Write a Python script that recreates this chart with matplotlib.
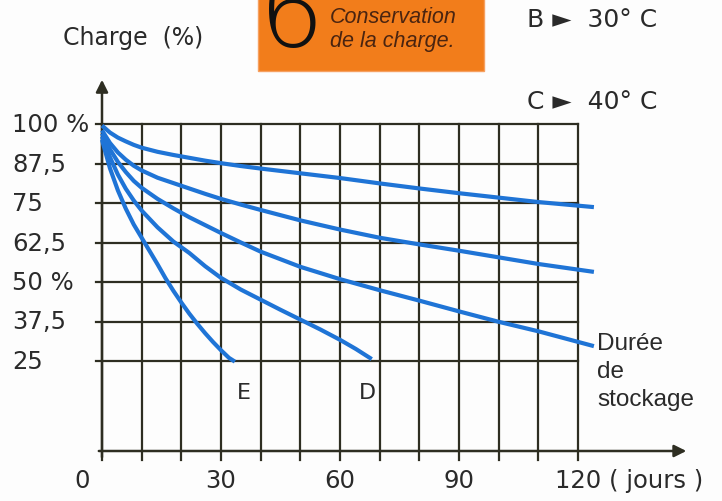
import matplotlib.pyplot as plt
from matplotlib.patches import Rectangle

# Storage curves (days, % charge)
days_a = [0, 2, 4, 6, 8, 10, 14, 18, 22, 26, 30, 35, 40, 50, 60, 70, 80, 90, 100, 110, 124]
charge_a = [99.5, 97.3, 95.7, 94.5, 93.4, 92.5, 91.2, 90.2, 89.3, 88.4, 87.6, 86.7, 85.9,
            84.4, 82.9, 81.2, 79.6, 78.1, 76.7, 75.3, 73.7]

days_b = [0, 2, 4, 6, 8, 10, 14, 18, 22, 26, 30, 35, 40, 50, 60, 70, 80, 90, 100, 110, 124]
charge_b = [98, 94, 91, 88.7, 86.8, 85.3, 83.0, 81.3, 79.6, 77.9, 76.3, 74.5, 72.8,
            69.5, 66.6, 64.0, 61.9, 59.9, 57.8, 55.7, 53.2]

days_c = [0, 2, 4, 6, 8, 10, 14, 18, 22, 26, 30, 35, 40, 50, 60, 70, 80, 90, 100, 110, 124]
charge_c = [97, 92, 88, 84.8, 82.0, 79.8, 76.3, 73.3, 70.5, 68.0, 65.5, 62.5, 59.6,
            54.8, 50.9, 47.4, 44.1, 40.7, 37.4, 34.4, 29.7]

days_d = [0, 2, 4, 6, 8, 10, 14, 18, 22, 26, 30, 35, 40, 45, 50, 55, 60, 64, 68]
charge_d = [96, 89.5, 84, 79.5, 75.8, 72.6, 67.3, 62.8, 59.2, 55.0, 51.3, 47.6, 44.4,
            41.2, 38.1, 35.0, 31.7, 28.8, 25.6]

days_e = [0, 2, 4, 6, 8, 10, 12, 14, 16, 18, 20, 22, 24, 26, 28, 30, 32, 33.5]
charge_e = [95, 86, 79, 73.2, 68.2, 64.0, 59.8, 55.6, 51.2, 47.2, 43.5, 40.0, 36.8,
            33.8, 31.0, 28.4, 26.0, 24.8]

y_ticks = [100, 87.5, 75, 62.5, 50, 37.5, 25]
y_labels = ["100 %", "87,5", "75", "62,5", "50 %", "37,5", "25"]
x_ticks = [0, 30, 60, 90]
x_labels = ["0", "30", "60", "90"]
legend_lines = ["B \u25ba  30\u00b0 C", "C \u25ba  40\u00b0 C"]

blue = "#1f74d6"
ink = "#2e2e22"

# pixel -> data helpers so the frame fills the whole figure
def px(x):
    return (x - 102) / 3.967

def py(y):
    return 100 - (y - 125) / 3.16

fig = plt.figure(figsize=(7.22, 5.02), dpi=100)
fig.patch.set_facecolor("#fdfdfd")
ax = fig.add_axes([0, 0, 1, 1])
ax.set_xlim(px(0), px(722))
ax.set_ylim(py(502), py(0))
ax.axis("off")

axis_y = py(452)
tick_low = py(461)

# grid
for d in range(0, 130, 10):
    ax.plot([d, d], [tick_low, 100], color=ink, lw=1.6, zorder=2)
for v in y_ticks:
    ax.plot([-1.5, 120], [v, v], color=ink, lw=1.6, zorder=2)

# axes with arrows
ax.annotate("", xy=(148, axis_y), xytext=(-1.5, axis_y),
            arrowprops=dict(arrowstyle="-|>", color=ink, lw=1.8, mutation_scale=18), zorder=3)
ax.annotate("", xy=(0, py(78)), xytext=(0, tick_low),
            arrowprops=dict(arrowstyle="-|>", color=ink, lw=1.8, mutation_scale=18), zorder=3)

# curves
for d, c in [(days_a, charge_a), (days_b, charge_b), (days_c, charge_c),
             (days_d, charge_d), (days_e, charge_e)]:
    ax.plot(d, c, color=blue, lw=3.0, solid_capstyle="butt", solid_joinstyle="round", zorder=4)

font = dict(family="DejaVu Sans", color="#2a2a2a")

for v, lab in zip(y_ticks, y_labels):
    ax.text(px(12), v, lab, ha="left", va="center", fontsize=17.5, **font)
for d, lab in zip(x_ticks, x_labels):
    xx = d if d else px(82)
    ax.text(xx, py(481), lab, ha="center", va="center", fontsize=17.5, **font)
ax.text(px(555), py(481), "120 ( jours )", ha="left", va="center", fontsize=17.5, **font)

ax.text(px(133), py(38), "Charge  (%)", ha="center", va="center", fontsize=17, **font)
ax.text(px(244), py(393), "E", ha="center", va="center", fontsize=16, **font)
ax.text(px(367), py(393), "D", ha="center", va="center", fontsize=16, **font)
ax.text(px(597), py(372), "Dur\u00e9e\nde\nstockage", ha="left", va="center",
        fontsize=17.5, linespacing=1.35, family="Liberation Sans", color="#2a2a2a")

ax.text(px(527), py(20), legend_lines[0], ha="left", va="center", fontsize=18, **font)
ax.text(px(527), py(102), legend_lines[1], ha="left", va="center", fontsize=18, **font)

# orange title box
ax.add_patch(Rectangle((px(258), py(72)), px(484) - px(258), py(-5) - py(72),
                       facecolor="#f27d1b", edgecolor="#f6a060", lw=1.0, zorder=5))
ax.text(px(259), py(47), "6", ha="left", va="baseline", fontsize=74,
        family="DejaVu Sans", weight="light", color="#111111", zorder=6, clip_on=True)
ax.text(px(330), py(17), "Conservation", ha="left", va="center", fontsize=15.5,
        style="italic", family="Liberation Sans", color="#4a2410", zorder=6)
ax.text(px(330), py(41), "de la charge.", ha="left", va="center", fontsize=15.5,
        style="italic", family="Liberation Sans", color="#4a2410", zorder=6)

fig.savefig("out.png", dpi=100, facecolor=fig.get_facecolor())
